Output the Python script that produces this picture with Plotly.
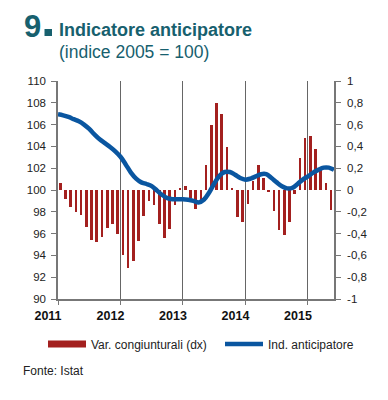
import plotly.graph_objects as go

# Monthly data Jan 2011 - May 2015 (bars), index Jan 2011 - Jun 2015 (line)
var_cong = [
    0.065, -0.085, -0.16, -0.20, -0.23, -0.34, -0.46, -0.48, -0.43, -0.35, -0.31, -0.40,   # 2011
    -0.60, -0.72, -0.65, -0.47, -0.24, -0.10, -0.135, -0.31, -0.44, -0.36, -0.135, 0.01,  # 2012
    0.04, -0.07, -0.17, -0.10, 0.23, 0.60, 0.80, 0.70, 0.39, 0.01, -0.245, -0.29,         # 2013
    -0.13, 0.085, 0.23, 0.11, -0.015, -0.19, -0.37, -0.41, -0.29, -0.04, 0.29, 0.48,      # 2014
    0.495, 0.375, 0.19, 0.065, -0.18,                                                     # 2015
]
ind_antic = [
    106.95, 106.85, 106.7, 106.5, 106.3, 106.0, 105.6, 105.1, 104.65, 104.3, 103.95, 103.55,
    103.05, 102.35, 101.6, 101.05, 100.7, 100.55, 100.35, 99.95, 99.55, 99.25, 99.15, 99.15,
    99.15, 99.1, 99.0, 98.85, 99.1, 99.75, 100.6, 101.3, 101.65, 101.65, 101.4, 101.1,
    100.95, 101.05, 101.25, 101.45, 101.45, 101.1, 100.7, 100.35, 100.15, 100.2, 100.55, 100.95,
    101.25, 101.6, 101.85, 102.05, 102.05, 101.85,
]
year_labels = ["2011", "2012", "2013", "2014", "2015"]
left_ticks = [90, 92, 94, 96, 98, 100, 102, 104, 106, 108, 110]
right_ticks = [-1, -0.8, -0.6, -0.4, -0.2, 0, 0.2, 0.4, 0.6, 0.8, 1]
right_tick_text = ["-1", "-0,8", "-0,6", "-0,4", "-0,2", "0", "0,2", "0,4", "0,6", "0,8", "1"]

BAR_C = "#a3201f"
LINE_C = "#0a56a0"
TEAL = "#17606e"
AX_C = "#777777"
FONT = "Liberation Sans, Arial, sans-serif"

bar_x = [i + 0.45 for i in range(len(var_cong))]
line_x = list(range(len(ind_antic)))

fig = go.Figure()
fig.add_trace(go.Bar(x=bar_x, y=var_cong, width=0.5, marker=dict(color=BAR_C, line=dict(width=0)),
                     yaxis="y", showlegend=False, name="Var. congiunturali (dx)"))
fig.add_trace(go.Scatter(x=[None], y=[None], mode="lines", line=dict(color=BAR_C, width=7),
                         name="Var. congiunturali (dx)", yaxis="y", legend="legend"))
fig.add_trace(go.Scatter(x=line_x, y=ind_antic, mode="lines", line=dict(color=LINE_C, width=4.5, shape="spline"),
                         name="Ind. anticipatore", yaxis="y2", legend="legend2"))

L, R, T, B = 58, 54, 81, 101
W, H = 388, 400

def cx(x):
    return x / W

def cy(y):
    return 1 - y / H

leg_common = dict(orientation="h", xref="container", yref="container", xanchor="left",
                  yanchor="middle", font=dict(family=FONT, size=12, color="#222"),
                  itemwidth=38, bgcolor="rgba(0,0,0,0)")

fig.update_layout(
    width=W, height=H,
    margin=dict(l=L, r=R, t=T, b=B, pad=0, autoexpand=False),
    paper_bgcolor="white", plot_bgcolor="white",
    font=dict(family=FONT, size=12, color="#222"),
    bargap=0,
    xaxis=dict(range=[0, 53], tickvals=[0, 12, 24, 36, 48], ticktext=year_labels,
               showgrid=True, gridcolor="#666666", gridwidth=1, zeroline=False,
               showline=True, linecolor=AX_C, linewidth=1.5,
               ticks="outside", ticklen=4, tickcolor=AX_C, ticklabelshift=-10,
               tickfont=dict(family=FONT, size=12.5, color="#111", weight="bold")),
    yaxis=dict(side="right", range=[-1, 1], tickvals=right_ticks, ticktext=right_tick_text,
               showgrid=False, zeroline=False, showline=True, linecolor=AX_C, linewidth=1.5,
               ticks="outside", ticklen=5, tickcolor=AX_C, ticklabelstandoff=4,
               tickfont=dict(family=FONT, size=11.5, color="#222")),
    yaxis2=dict(side="left", overlaying="y", range=[90, 110], tickvals=left_ticks,
                showgrid=False, zeroline=False, showline=True, linecolor=AX_C, linewidth=1.5,
                ticks="outside", ticklen=5, tickcolor=AX_C, ticklabelstandoff=3,
                tickfont=dict(family=FONT, size=11.5, color="#222")),
    legend=dict(leg_common, x=cx(43), y=cy(344)),
    legend2=dict(leg_common, x=cx(220), y=cy(344)),
    showlegend=True,
)

annotations = [
    dict(text="<b>9</b>", x=cx(22), y=cy(26), xanchor="left", yanchor="middle",
         font=dict(family=FONT, size=31, color=TEAL)),
    dict(text="<b>Indicatore anticipatore</b>", x=cx(57), y=cy(30.5), xanchor="left", yanchor="middle",
         font=dict(family=FONT, size=18, color=TEAL)),
    dict(text="(indice 2005 = 100)", x=cx(57), y=cy(52), xanchor="left", yanchor="middle",
         font=dict(family=FONT, size=17.5, color=TEAL)),
    dict(text="Fonte: Istat", x=cx(21), y=cy(371), xanchor="left", yanchor="middle",
         font=dict(family=FONT, size=12, color="#222")),
]
for a in annotations:
    a.update(xref="paper", yref="paper", showarrow=False)
    # convert container fractions to paper fractions
    a["x"] = (a["x"] * W - L) / (W - L - R)
    a["y"] = (a["y"] * H - B) / (H - T - B)
fig.update_layout(annotations=annotations)
# square dot after the "9"
fig.add_shape(type="rect", xref="paper", yref="paper",
              x0=(44.5 - L) / (W - L - R), x1=(52 - L) / (W - L - R),
              y0=(H - 36 - B) / (H - T - B), y1=(H - 29 - B) / (H - T - B),
              fillcolor=TEAL, line=dict(width=0))

fig.write_html("out.html", config={"displayModeBar": False},
               post_script="document.body.style.margin='0px';")
